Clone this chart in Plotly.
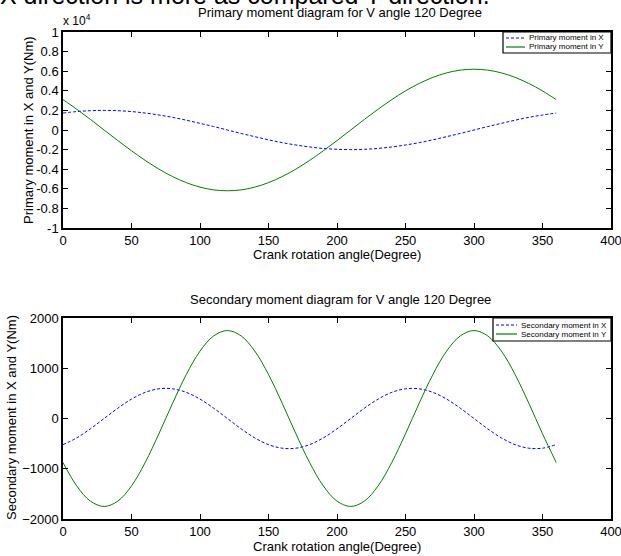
import plotly.graph_objects as go

angle = list(range(0, 361, 10))

primary_x = [1730, 1880, 1970, 2000, 1970, 1880, 1730, 1530, 1290, 1000, 680, 350, 0,
             -350, -680, -1000, -1290, -1530, -1730, -1880, -1970, -2000, -1970, -1880,
             -1730, -1530, -1290, -1000, -680, -350, 0, 350, 680, 1000, 1290, 1530, 1730]
primary_y = [3100, 2120, 1080, 0, -1080, -2120, -3100, -3990, -4750, -5370, -5830, -6110,
             -6200, -6110, -5830, -5370, -4750, -3990, -3100, -2120, -1080, 0, 1080, 2120,
             3100, 3990, 4750, 5370, 5830, 6110, 6200, 6110, 5830, 5370, 4750, 3990, 3100]
secondary_x = [-520, -386, -205, 0, 205, 386, 520, 591, 591, 520, 386, 205, 0, -205, -386,
               -520, -591, -591, -520, -386, -205, 0, 205, 386, 520, 591, 591, 520, 386,
               205, 0, -205, -386, -520, -591, -591, -520]
secondary_y = [-875, -1341, -1644, -1750, -1644, -1341, -875, -304, 304, 875, 1341, 1644,
               1750, 1644, 1341, 875, 304, -304, -875, -1341, -1644, -1750, -1644, -1341,
               -875, -304, 304, 875, 1341, 1644, 1750, 1644, 1341, 875, 304, -304, -875]

x_ticks = [0, 50, 100, 150, 200, 250, 300, 350, 400]
top_y_vals = [-10000, -8000, -6000, -4000, -2000, 0, 2000, 4000, 6000, 8000, 10000]
top_y_text = ["-1", "-0.8", "-0.6", "-0.4", "-0.2", "0", "0.2", "0.4", "0.6", "0.8", "1"]
bot_y_vals = [-2000, -1000, 0, 1000, 2000]

W, H = 621, 556
L, R, T, B = 63, 10, 32, 37
PW, PH = W - L - R, H - T - B


def px(x):
    return (x - L) / PW


def py(y):
    return (H - B - y) / PH


FONT = "Liberation Sans, Arial, sans-serif"
BLUE = "rgb(0,0,255)"
GREEN = "rgb(0,128,0)"
DASH = "3px,2px"

fig = go.Figure()
fig.add_trace(go.Scatter(x=angle, y=primary_x, mode="lines", name="Primary moment in X",
                         line=dict(color=BLUE, width=1, dash=DASH, shape="spline"),
                         xaxis="x", yaxis="y"))
fig.add_trace(go.Scatter(x=angle, y=primary_y, mode="lines", name="Primary moment in Y",
                         line=dict(color=GREEN, width=1, shape="spline"),
                         xaxis="x", yaxis="y"))
fig.add_trace(go.Scatter(x=angle, y=secondary_x, mode="lines", name="Secondary moment in X",
                         line=dict(color=BLUE, width=1, dash=DASH, shape="spline"),
                         xaxis="x2", yaxis="y2"))
fig.add_trace(go.Scatter(x=angle, y=secondary_y, mode="lines", name="Secondary moment in Y",
                         line=dict(color=GREEN, width=1, shape="spline"),
                         xaxis="x2", yaxis="y2"))

top_dom = [py(228), py(32)]
bot_dom = [py(519), py(318)]

axis_common = dict(showline=True, linecolor="black", linewidth=1.5, mirror="ticks",
                   ticks="inside", ticklen=5, tickcolor="black", showgrid=False,
                   zeroline=False, automargin=False, ticklabeloverflow="allow",
                   tickfont=dict(size=13, color="black", family=FONT))

fig.update_layout(
    width=W, height=H,
    margin=dict(l=L, r=R, t=T, b=B, autoexpand=False),
    paper_bgcolor="white", plot_bgcolor="white",
    font=dict(family=FONT, color="black"),
    showlegend=False,
    xaxis=dict(domain=[0, 1], anchor="y", range=[0, 400], tickvals=x_ticks, **axis_common),
    yaxis=dict(domain=top_dom, anchor="x", range=[-10000, 10000], tickvals=top_y_vals,
               ticktext=top_y_text, **axis_common),
    xaxis2=dict(domain=[0, 1], anchor="y2", range=[0, 400], tickvals=x_ticks, **axis_common),
    yaxis2=dict(domain=bot_dom, anchor="x2", range=[-2000, 2000], tickvals=bot_y_vals,
                **axis_common),
)


def ann(text, x, y, size=13, xanchor="center", yanchor="middle", angle=0):
    return dict(text=text, x=px(x), y=py(y), xref="paper", yref="paper",
                xanchor=xanchor, yanchor=yanchor, textangle=angle, showarrow=False,
                font=dict(size=size, family=FONT, color="black"))


annots = [
    ann("X direction is more as compared Y direction.", -2, -5, size=25, xanchor="left"),
    ann("Primary moment diagram for V angle 120 Degree", 340, 12),
    ann("Secondary moment diagram for V angle 120 Degree", 340, 300),
    ann("x 10<sup>4</sup>", 61, 20, size=12, xanchor="left"),
    ann("Crank rotation angle(Degree)", 337, 254),
    ann("Crank rotation angle(Degree)", 337, 546),
    ann("Primary moment in X and Y(Nm)", 28, 130, angle=-90),
    ann("Secondary moment in X and Y(Nm)", 11, 418, angle=-90),
]

shapes = []
legends = [
    (503, 611, 32, 53, 506, 525, [38, 47], 527, ["Primary moment in X", "Primary moment in Y"]),
    (493, 611, 318, 341, 496, 517, [325, 334], 519,
     ["Secondary moment in X", "Secondary moment in Y"]),
]
for bx0, bx1, by0, by1, lx0, lx1, rows, tx, labels in legends:
    shapes.append(dict(type="rect", xref="paper", yref="paper", x0=px(bx0), x1=px(bx1),
                       y0=py(by1), y1=py(by0), line=dict(color="black", width=1.2),
                       fillcolor="white", layer="above"))
    styles = [dict(color=BLUE, width=1, dash=DASH), dict(color=GREEN, width=1.2)]
    for ry, st, lab in zip(rows, styles, labels):
        shapes.append(dict(type="line", xref="paper", yref="paper", x0=px(lx0), x1=px(lx1),
                           y0=py(ry), y1=py(ry), line=st, layer="above"))
        annots.append(ann(lab, tx, ry, size=8, xanchor="left"))

fig.update_layout(annotations=annots, shapes=shapes)

fig.write_html("out.html", config={"displayModeBar": False},
               post_script="document.body.style.margin='0';document.body.style.padding='0';")
